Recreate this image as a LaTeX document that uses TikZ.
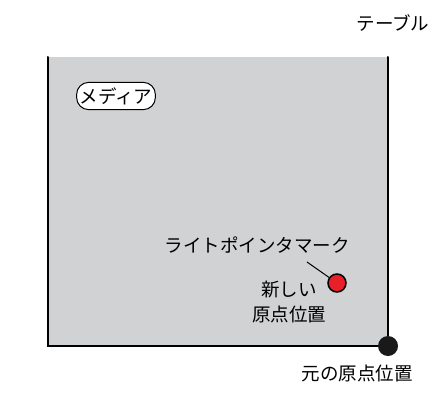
\documentclass[tikz,border=0pt]{standalone}
\usepackage{fontspec}
\setmainfont{Noto Sans CJK JP}
\usetikzlibrary{positioning}
\definecolor{mediagray}{HTML}{D1D2D4}
\definecolor{pointred}{HTML}{E8202A}
\tikzset{
  jtext/.style={font=\fontsize{18.5}{22}\selectfont, inner sep=0pt},
  edge/.style={line width=2pt, line cap=round},
}

\begin{document}
\begin{tikzpicture}[x=1pt, y=-1pt]
  \useasboundingbox (0,0) rectangle (435,396);
  \coordinate (TL) at (47.5, 57.00);
  \coordinate (BL) at (47.5, 346.00);
  \coordinate (BR) at (388.0, 346.00);
  \coordinate (TR) at (388.0, 57.00);
  \coordinate (P) at (337.0, 283.00);
  \coordinate (Q) at (307.0, 262.00);

  \fill[mediagray] (TL) rectangle (BR);
  \draw[edge] (TL) -- (BL) -- (BR) -- (TR);

  \node[jtext] (table) at (393, 23) {テーブル};
  \node[jtext, draw, line width=1pt, rounded corners=12pt, fill=white,
        inner xsep=3pt, inner ysep=5pt] (media) at (116, 96) {メディア};

  \node[jtext] (pointer) at (257, 245) {ライトポインタマーク};
  \node[circle, draw, line width=1.5pt, fill=pointred, minimum size=18pt,
        inner sep=0pt] (red) at (P) {};
  \draw[line width=1pt] (Q) -- (red);
  \node[jtext] (newA) at (289, 290) {新しい};
  \node[jtext] (newB) at (289, 314) {原点位置};

  \fill[black!90] (BR) circle (10pt);
  \node[jtext] (orig) at (357, 373) {元の原点位置};
\end{tikzpicture}
\end{document}
